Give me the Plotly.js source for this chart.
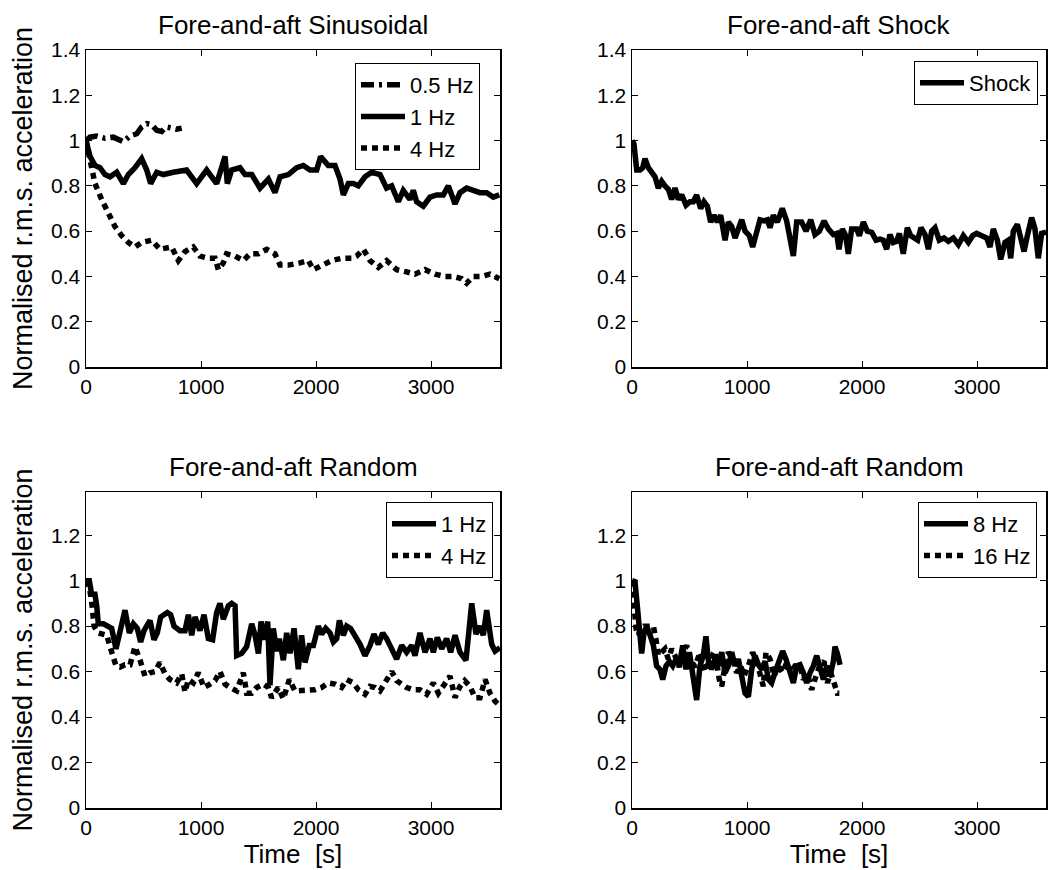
<!DOCTYPE html>
<html>
<head>
<meta charset="utf-8">
<script src="https://cdn.plot.ly/plotly-3.0.1.min.js"></script>
<style>html,body{margin:0;padding:0;background:#fff;}#chart{width:1050px;height:870px;}</style>
</head>
<body>
<div id="chart"></div>
<script>
// ---------- DATA: [time (s), normalised r.m.s. acceleration] ----------
const sinHalfHz = [[0,1.0],[35,1.015],[93,1.02],[165,1.01],[238,1.015],[296,1.0],[325,0.995],[383,1.02],[441,1.03],[484,1.06],[528,1.075],[571,1.07],[615,1.045],[658,1.04],[696,1.06],[745,1.055],[788,1.05],[832,1.055]];
const sin1Hz = [[0,1.0],[35,0.93],[78,0.89],[122,0.88],[165,0.85],[209,0.84],[238,0.85],[267,0.86],[325,0.81],[368,0.85],[426,0.88],[484,0.92],[528,0.87],[562,0.81],[615,0.86],[672,0.85],[759,0.86],[875,0.87],[962,0.81],[1049,0.87],[1136,0.81],[1180,0.89],[1209,0.93],[1229,0.81],[1267,0.87],[1339,0.88],[1383,0.85],[1441,0.85],[1513,0.79],[1586,0.83],[1643,0.77],[1687,0.84],[1760,0.85],[1832,0.88],[1890,0.89],[1948,0.87],[2006,0.87],[2040,0.93],[2078,0.91],[2107,0.89],[2165,0.89],[2209,0.83],[2238,0.76],[2281,0.81],[2325,0.81],[2368,0.80],[2426,0.84],[2484,0.86],[2557,0.85],[2614,0.79],[2658,0.80],[2716,0.73],[2759,0.78],[2817,0.74],[2846,0.78],[2875,0.73],[2933,0.71],[2991,0.75],[3049,0.76],[3107,0.76],[3151,0.80],[3209,0.72],[3252,0.77],[3310,0.79],[3368,0.78],[3426,0.77],[3484,0.77],[3542,0.75],[3594,0.76]];
const sin4Hz = [[0,1.0],[35,0.90],[78,0.81],[136,0.74],[194,0.68],[252,0.62],[310,0.58],[368,0.55],[426,0.53],[484,0.55],[571,0.56],[643,0.52],[745,0.53],[803,0.47],[861,0.51],[933,0.53],[991,0.49],[1064,0.48],[1122,0.48],[1151,0.43],[1194,0.46],[1223,0.50],[1296,0.49],[1368,0.47],[1426,0.50],[1499,0.50],[1571,0.52],[1643,0.50],[1687,0.45],[1760,0.45],[1861,0.46],[1933,0.47],[1977,0.43],[2049,0.45],[2136,0.47],[2223,0.48],[2310,0.48],[2354,0.49],[2412,0.52],[2470,0.47],[2542,0.44],[2614,0.47],[2701,0.43],[2788,0.42],[2861,0.41],[2948,0.43],[3035,0.41],[3122,0.40],[3194,0.40],[3267,0.39],[3310,0.37],[3368,0.40],[3441,0.40],[3513,0.41],[3594,0.39]];
const shock = [[0,1.0],[17,0.985],[41,0.87],[70,0.87],[93,0.88],[113,0.92],[142,0.88],[171,0.86],[200,0.84],[229,0.79],[258,0.82],[287,0.80],[316,0.785],[345,0.74],[374,0.79],[403,0.74],[432,0.76],[470,0.715],[504,0.73],[533,0.73],[562,0.76],[597,0.70],[626,0.73],[655,0.71],[684,0.64],[713,0.67],[742,0.64],[771,0.67],[809,0.56],[838,0.64],[867,0.62],[896,0.57],[925,0.61],[954,0.65],[983,0.60],[1020,0.58],[1049,0.53],[1084,0.61],[1113,0.65],[1148,0.645],[1177,0.65],[1200,0.615],[1229,0.67],[1264,0.64],[1307,0.70],[1345,0.645],[1374,0.58],[1403,0.49],[1432,0.64],[1475,0.64],[1513,0.60],[1554,0.65],[1591,0.585],[1629,0.60],[1670,0.645],[1707,0.61],[1751,0.585],[1780,0.59],[1800,0.52],[1829,0.61],[1858,0.58],[1881,0.50],[1910,0.61],[1954,0.61],[1977,0.58],[2012,0.64],[2046,0.60],[2084,0.595],[2122,0.56],[2157,0.565],[2185,0.56],[2214,0.52],[2243,0.585],[2272,0.55],[2301,0.555],[2325,0.59],[2359,0.50],[2394,0.615],[2423,0.58],[2461,0.57],[2484,0.56],[2513,0.615],[2548,0.585],[2577,0.52],[2606,0.60],[2635,0.615],[2672,0.56],[2713,0.57],[2751,0.555],[2794,0.57],[2838,0.54],[2881,0.58],[2925,0.55],[2962,0.58],[2997,0.59],[3041,0.58],[3084,0.57],[3113,0.53],[3142,0.61],[3177,0.56],[3206,0.475],[3243,0.55],[3272,0.56],[3293,0.48],[3316,0.60],[3351,0.63],[3380,0.56],[3409,0.51],[3438,0.58],[3475,0.66],[3504,0.61],[3533,0.48],[3562,0.59],[3600,0.595]];
const rand1Hz = [[0,1.0],[29,1.0],[49,0.94],[78,0.94],[93,0.89],[107,0.81],[151,0.81],[194,0.80],[223,0.79],[261,0.70],[290,0.76],[310,0.80],[339,0.87],[377,0.77],[412,0.81],[446,0.79],[475,0.73],[504,0.78],[528,0.80],[557,0.825],[591,0.74],[620,0.77],[649,0.84],[678,0.85],[707,0.86],[736,0.85],[765,0.80],[817,0.78],[861,0.78],[890,0.85],[919,0.76],[948,0.84],[991,0.78],[1026,0.85],[1064,0.745],[1101,0.74],[1136,0.86],[1165,0.90],[1194,0.83],[1238,0.89],[1267,0.90],[1296,0.89],[1310,0.67],[1354,0.68],[1397,0.71],[1441,0.81],[1470,0.76],[1499,0.68],[1522,0.82],[1551,0.74],[1580,0.82],[1600,0.54],[1629,0.79],[1658,0.69],[1681,0.745],[1716,0.65],[1745,0.77],[1774,0.68],[1809,0.79],[1846,0.61],[1875,0.76],[1904,0.64],[1942,0.715],[1977,0.715],[2020,0.80],[2049,0.765],[2084,0.79],[2122,0.77],[2151,0.73],[2180,0.745],[2203,0.825],[2238,0.76],[2267,0.80],[2301,0.79],[2339,0.76],[2383,0.72],[2426,0.67],[2470,0.715],[2504,0.765],[2542,0.72],[2580,0.77],[2614,0.745],[2658,0.70],[2701,0.655],[2745,0.715],[2788,0.685],[2832,0.715],[2861,0.67],[2904,0.77],[2948,0.685],[2991,0.745],[3020,0.685],[3055,0.75],[3093,0.70],[3136,0.745],[3171,0.685],[3209,0.76],[3252,0.685],[3304,0.65],[3333,0.82],[3354,0.90],[3391,0.765],[3426,0.80],[3455,0.76],[3484,0.87],[3528,0.72],[3557,0.69],[3600,0.705]];
const rand4Hz = [[0,1.0],[29,0.97],[49,0.91],[70,0.80],[107,0.77],[151,0.76],[180,0.76],[209,0.71],[238,0.65],[261,0.625],[296,0.62],[339,0.63],[383,0.63],[426,0.71],[470,0.65],[513,0.58],[557,0.595],[600,0.60],[643,0.64],[687,0.59],[730,0.565],[788,0.55],[832,0.59],[861,0.51],[890,0.565],[933,0.55],[977,0.595],[1026,0.53],[1078,0.545],[1122,0.56],[1165,0.60],[1209,0.545],[1252,0.53],[1310,0.515],[1368,0.595],[1397,0.505],[1441,0.505],[1484,0.53],[1542,0.545],[1586,0.53],[1614,0.485],[1672,0.53],[1716,0.48],[1768,0.565],[1817,0.515],[1875,0.515],[1933,0.515],[1991,0.52],[2049,0.53],[2107,0.55],[2165,0.545],[2223,0.53],[2267,0.565],[2325,0.55],[2368,0.52],[2426,0.50],[2470,0.535],[2513,0.53],[2557,0.515],[2614,0.565],[2658,0.60],[2701,0.56],[2745,0.545],[2788,0.53],[2846,0.52],[2904,0.52],[2962,0.50],[3020,0.55],[3064,0.505],[3107,0.535],[3165,0.58],[3209,0.485],[3252,0.535],[3293,0.56],[3339,0.535],[3383,0.485],[3426,0.485],[3470,0.565],[3513,0.505],[3557,0.47],[3600,0.45]];
const rand8Hz = [[0,1.0],[26,0.995],[46,0.89],[64,0.77],[84,0.68],[104,0.77],[128,0.80],[157,0.76],[186,0.715],[214,0.625],[243,0.61],[267,0.565],[296,0.625],[325,0.645],[354,0.625],[383,0.655],[412,0.63],[441,0.715],[470,0.61],[499,0.685],[533,0.565],[562,0.475],[591,0.625],[620,0.67],[643,0.755],[664,0.65],[693,0.61],[722,0.655],[751,0.625],[780,0.685],[809,0.595],[838,0.625],[867,0.685],[896,0.625],[925,0.655],[954,0.565],[983,0.505],[1012,0.49],[1041,0.61],[1070,0.67],[1099,0.63],[1128,0.61],[1157,0.645],[1186,0.565],[1214,0.55],[1243,0.595],[1272,0.63],[1310,0.69],[1339,0.655],[1374,0.595],[1403,0.55],[1432,0.625],[1461,0.63],[1490,0.595],[1519,0.55],[1548,0.595],[1577,0.625],[1606,0.67],[1635,0.61],[1664,0.565],[1693,0.625],[1722,0.58],[1751,0.645],[1765,0.71],[1786,0.68],[1809,0.63]];
const rand16Hz = [[0,1.0],[17,0.89],[35,0.79],[55,0.76],[75,0.79],[104,0.80],[142,0.80],[186,0.80],[209,0.74],[229,0.67],[258,0.685],[287,0.70],[316,0.655],[345,0.70],[374,0.67],[412,0.62],[446,0.685],[475,0.715],[510,0.65],[548,0.62],[591,0.685],[635,0.60],[678,0.655],[722,0.69],[759,0.565],[780,0.535],[809,0.625],[838,0.685],[875,0.655],[910,0.595],[945,0.625],[974,0.58],[1012,0.625],[1049,0.685],[1084,0.645],[1119,0.58],[1142,0.535],[1165,0.685],[1200,0.655],[1235,0.58],[1272,0.625],[1310,0.595],[1345,0.64],[1380,0.595],[1417,0.625],[1461,0.625],[1490,0.565],[1525,0.59],[1562,0.52],[1600,0.58],[1635,0.63],[1670,0.645],[1699,0.55],[1728,0.595],[1757,0.55],[1786,0.505],[1803,0.505]];

const titles = ['Fore-and-aft Sinusoidal', 'Fore-and-aft Shock', 'Fore-and-aft Random', 'Fore-and-aft Random'];
const yTitle = 'Normalised r.m.s. acceleration';
const xTitle = 'Time  [s]';
const xTicks = [0, 1000, 2000, 3000];
const yTicksTop = [0, 0.2, 0.4, 0.6, 0.8, 1, 1.2, 1.4];
const yTicksBottom = [0, 0.2, 0.4, 0.6, 0.8, 1, 1.2];

// ---------- styling ----------
const FONT = 'Liberation Sans, Arial, Helvetica, sans-serif';
const BLACK = '#000000';
const LW = 5.5;
const DOT = '6px,5px';
const DASHDOT = '13px,5px,3px,5px';

function tr(pairs, name, dash, ax, legend) {
  return {
    type: 'scatter', mode: 'lines', name: name,
    x: pairs.map(p => p[0]), y: pairs.map(p => p[1]),
    xaxis: 'x' + ax, yaxis: 'y' + ax, legend: legend,
    line: {color: BLACK, width: LW, dash: dash, shape: 'linear'},
    hoverinfo: 'skip'
  };
}

const data = [
  tr(sinHalfHz, '0.5 Hz', DASHDOT, '', 'legend'),
  tr(sin1Hz, '1 Hz', 'solid', '', 'legend'),
  tr(sin4Hz, '4 Hz', DOT, '', 'legend'),
  tr(shock, 'Shock', 'solid', '2', 'legend2'),
  tr(rand1Hz, '1 Hz', 'solid', '3', 'legend3'),
  tr(rand4Hz, '4 Hz', DOT, '3', 'legend3'),
  tr(rand8Hz, '8 Hz', 'solid', '4', 'legend4'),
  tr(rand16Hz, '16 Hz', DOT, '4', 'legend4')
];

const W = 1050, H = 870;
const colL = [86 / W, 500 / W], colR = [632 / W, 1046 / W];
const rowT = [(H - 367) / H, (H - 50) / H], rowB = [(H - 808) / H, (H - 492) / H];

function xa(domain, anchor, withTitle) {
  const a = {
    domain: domain, anchor: anchor, range: [0, 3600], tickvals: xTicks,
    ticks: 'inside', ticklen: 6, tickwidth: 1, tickcolor: BLACK,
    showline: true, linecolor: BLACK, linewidth: 1.5, mirror: 'ticks',
    showgrid: false, zeroline: false, fixedrange: true,
    tickfont: {family: FONT, size: 21, color: BLACK}
  };
  if (withTitle) a.title = {text: xTitle, font: {family: FONT, size: 26, color: BLACK}, standoff: 4};
  return a;
}
function ya(domain, anchor, top, withTitle) {
  const a = {
    domain: domain, anchor: anchor, range: top ? [0, 1.4] : [0, 1.39],
    tickvals: top ? yTicksTop : yTicksBottom,
    ticks: 'inside', ticklen: 6, tickwidth: 1, tickcolor: BLACK,
    showline: true, linecolor: BLACK, linewidth: 1.5, mirror: 'ticks',
    showgrid: false, zeroline: false, fixedrange: true,
    tickfont: {family: FONT, size: 21, color: BLACK}
  };
  if (withTitle) a.title = {text: yTitle, font: {family: FONT, size: 27, color: BLACK}, standoff: 10};
  return a;
}
function leg(xr, yt) {
  return {
    x: xr, xanchor: 'right', y: yt, yanchor: 'top', xref: 'paper', yref: 'paper',
    bgcolor: '#ffffff', bordercolor: BLACK, borderwidth: 1,
    font: {family: FONT, size: 22, color: BLACK}, tracegroupgap: 0, itemwidth: 44
  };
}

function titleAnn(text, domain, yPx) {
  return {
    text: text, xref: 'paper', yref: 'paper', x: (domain[0] + domain[1]) / 2, y: (H - yPx) / H,
    xanchor: 'center', yanchor: 'middle', showarrow: false,
    font: {family: FONT, size: 26, color: BLACK}
  };
}

const layout = {
  width: W, height: H,
  margin: {l: 0, r: 0, t: 0, b: 0, pad: 0},
  paper_bgcolor: '#ffffff', plot_bgcolor: '#ffffff',
  showlegend: true,
  xaxis: xa(colL, 'y', false), yaxis: ya(rowT, 'x', true, true),
  xaxis2: xa(colR, 'y2', false), yaxis2: ya(rowT, 'x2', true, false),
  xaxis3: xa(colL, 'y3', true), yaxis3: ya(rowB, 'x3', false, true),
  xaxis4: xa(colR, 'y4', true), yaxis4: ya(rowB, 'x4', false, false),
  legend: leg(480 / W, (H - 63) / H),
  legend2: leg(1038 / W, (H - 61) / H),
  legend3: leg(493 / W, (H - 502) / H),
  legend4: leg(1037 / W, (H - 502) / H),
  annotations: [
    titleAnn(titles[0], colL, 25), titleAnn(titles[1], colR, 25),
    titleAnn(titles[2], colL, 467), titleAnn(titles[3], colR, 467)
  ]
};

Plotly.newPlot('chart', data, layout, {displayModeBar: false, staticPlot: true});
</script>
</body>
</html>
